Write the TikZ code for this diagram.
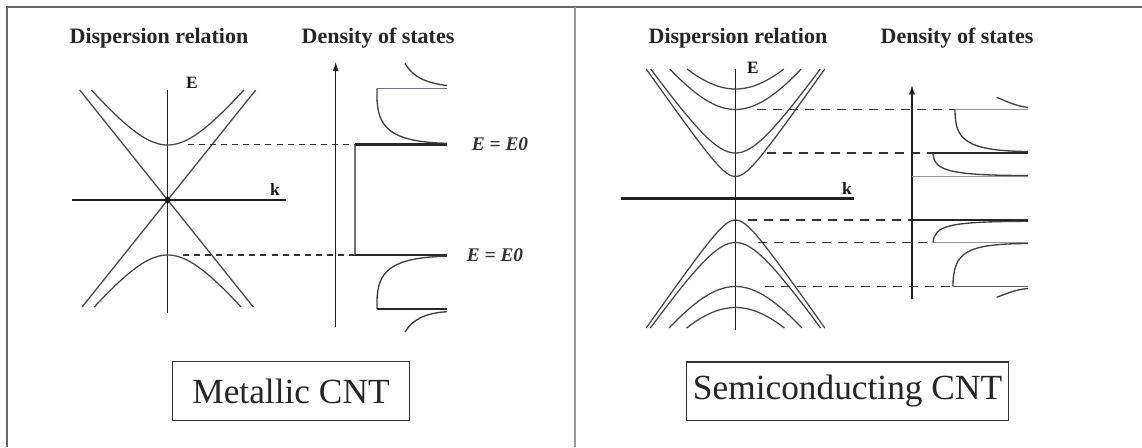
\documentclass[tikz,border=0pt]{standalone}
\usepackage{fontspec}
\setmainfont{Liberation Serif}
\usetikzlibrary{arrows.meta}
\begin{document}
\begin{tikzpicture}[x=0.75pt,y=-0.75pt,
  band/.style={draw=black!72, line width=0.95pt},
  ax/.style={draw=black!88, line width=0.9pt},
  kax/.style={draw=black!88, line width=2.2pt},
  dosax/.style={draw=black!88, line width=0.9pt, -{Latex[length=7pt,width=4.5pt]}},
  guide/.style={draw=black!80, line width=1pt, dash pattern=on 4.5pt off 3.8pt},
  guideS/.style={draw=black!80, line width=1pt, dash pattern=on 7pt off 5pt},
  dosthick/.style={draw=black!85, line width=2pt},
  dosthin/.style={draw=black!40, line width=0.9pt},
  dosmid/.style={draw=black!65, line width=1.1pt},
  dosc/.style={draw=black!75, line width=1pt},
  title/.style={font=\fontsize{16.5}{18}\selectfont\bfseries, text=black!85, inner sep=0pt},
  axlab/.style={font=\fontsize{13}{15}\selectfont\bfseries, text=black!90, inner sep=0pt},
  elab/.style={font=\fontsize{14.5}{17}\selectfont\bfseries\itshape, text=black!80, inner sep=0pt},
  cntbox/.style={draw=black!80, line width=0.9pt, font=\fontsize{26.5}{30}\selectfont, text=black!85, inner sep=0pt},
  frame/.style={draw=black!60, line width=1.2pt}
]
\useasboundingbox (0,0) rectangle (1142,447);
\fill[white] (0,0) rectangle (1142,447);

% frame
\draw[frame] (7,447) -- (7,7) -- (1142,7);
\draw[frame, draw=black!40] (575,7) -- (575,447);

% ===================== Metallic =====================
\node[title] (mtitleA) at (159,38) {Dispersion relation};
\node[title] (mtitleB) at (378,38) {Density of states};

\coordinate (mO) at (167.7,200);
\draw[ax] (167.7,90) -- (167.7,313);
\draw[kax] (72,200) -- (286,200);
\node[axlab] (mE) at (192,83) {E};
\node[axlab] (mk) at (275,189) {k};

\draw[band] (79.7,90) -- (253.3,307);
\draw[band] (255.7,90) -- (82.1,307);
\fill[black!90] (mO) circle[radius=2.4pt];

\draw[band] plot[domain=-76.2:76.2, samples=61, smooth] ({167.7+\x},{200-10*sqrt(5.5^2+(0.125*\x)^2)});
\draw[band] plot[domain=-73.4:73.4, samples=61, smooth] ({167.7+\x},{200+10*sqrt(5.5^2+(0.125*\x)^2)});

\draw[guide] (188,144.5) -- (355,144.5);
\draw[guide] (183,255) -- (355,255);

\draw[dosax] (335.7,327) -- (335.7,61.7);
\draw[draw=black!55, line width=1.5pt] (355,144.5) -- (355,255);
\draw[dosthick] (355,144.5) -- (447,144.5);
\draw[dosthick] (355,255) -- (447,255);

\draw[dosc] (447,143.3) .. controls (391,142) and (377,128) .. (377,96) -- (377,88.3);
\draw[draw=blue!25!black!55, line width=1pt] (377,88.3) -- (447,88.3);
\draw[dosc] (405,63.3) .. controls (412,76) and (425,83) .. (447,85.5);

\draw[dosc] (447,256.2) .. controls (391,257.5) and (377,271) .. (377,302) -- (377,309.3);
\draw[dosthick, line width=1.6pt] (377,309.3) -- (447,309.3);
\draw[dosc] (447,311.7) .. controls (425,313) and (412,320) .. (405,332);

\node[elab] (mEa) at (500,144.5) {E = E0};
\node[elab] (mEb) at (495,255) {E = E0};

\node[cntbox, minimum width=177.5pt, minimum height=43.7pt] (metbox) at (291,391) {Metallic CNT};

% ===================== Semiconducting =====================
\node[title] (stitleA) at (738,38) {Dispersion relation};
\node[title] (stitleB) at (957,38) {Density of states};

\draw[ax] (735.5,69) -- (735.5,330);
\draw[kax] (620.7,198.5) -- (854,198.5);
\node[axlab] (sE) at (753,68) {E};
\node[axlab] (sk) at (847,188) {k};

\foreach \e/\km in {22/89.24, 45.5/84.79, 89/65.78, 109.5/48.35}{
  \draw[band] plot[domain=-\km:\km, samples=71, smooth] ({735.5+\x},{198.5-10*sqrt((\e/10)^2+(0.143*\x)^2)});
}
\foreach \e/\km in {21.5/89.30, 44/85.17, 88/66.44, 109/48.9}{
  \draw[band] plot[domain=-\km:\km, samples=71, smooth] ({735.5+\x},{198.5+10*sqrt((\e/10)^2+(0.143*\x)^2)});
}

% guides
\draw[guideS] (757,109.5) -- (955,109.5);
\draw[guideS] (767,153) -- (933,153);
\draw[guideS] (748,220) -- (912,220);
\draw[guideS] (758,242.5) -- (933,242.5);
\draw[guideS] (765,286.5) -- (953,286.5);

% DOS
\draw[dosax] (912,299.3) -- (912,85);
\draw[dosthin] (955,109.5) -- (1028,109.5);
\draw[dosthick] (933,153) -- (1028,153);
\draw[dosthin] (912,176.5) -- (1028,176.5);
\draw[dosthick] (912,220) -- (1028,220);
\draw[dosthin] (933,242.5) -- (1028,242.5);
\draw[dosmid] (953,286.5) -- (1028,286.5);

\draw[dosc] (996.7,97.3) .. controls (1008,102) and (1016,106) .. (1028,107.5);
\draw[dosc] (955,109.5) .. controls (955,138) and (963,151) .. (1028,151.5);
\draw[dosc] (933,153) .. controls (934,170) and (946,175.5) .. (1028,175.5);
\draw[dosc] (933,242.5) .. controls (935,226) and (946,221.5) .. (1028,221.3);
\draw[dosc] (953,286.5) .. controls (953,252) and (966,243.8) .. (1028,243.5);
\draw[dosc] (996.7,297.3) .. controls (1008,293) and (1016,289.5) .. (1028,288.5);

\node[cntbox, minimum width=241.2pt, minimum height=44pt] (semibox) at (847.5,391.3) {Semiconducting CNT};
\end{tikzpicture}
\end{document}
